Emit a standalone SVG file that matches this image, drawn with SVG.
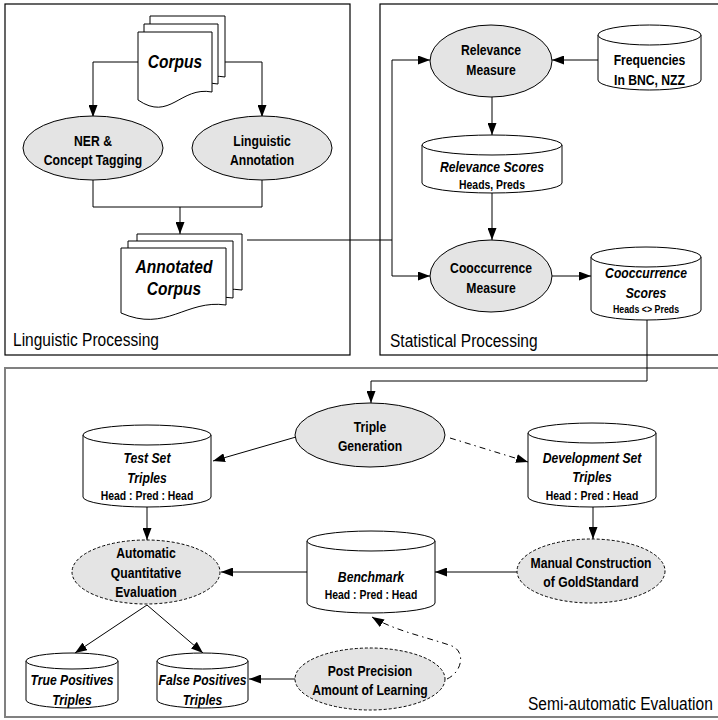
<svg xmlns="http://www.w3.org/2000/svg" width="718" height="720" viewBox="0 0 718 720">
<style>
.bg{fill:#ffffff}
.panel{fill:none;stroke:#000;stroke-width:1.2}
.panel2{fill:none;stroke:#808080;stroke-width:2}
.doc{fill:#fff;stroke:#000;stroke-width:1}
.cyl{fill:#fff;stroke:#000;stroke-width:1}
.ell{fill:#e4e4e4;stroke:#000;stroke-width:1}
.dash{stroke-dasharray:3,2}
.ln{fill:none;stroke:#000;stroke-width:1}
.dd{stroke-dasharray:6,4,1.5,4}
text{font-family:"Liberation Sans",Arial,Helvetica,sans-serif;fill:#000}
.n{font-size:14.5px;font-weight:bold;text-anchor:middle}
.ni{font-size:14.5px;font-weight:bold;font-style:italic;text-anchor:middle}
.s{font-size:12.4px;font-weight:bold;text-anchor:middle}
.xs{font-size:10.5px;font-weight:bold;text-anchor:middle}
.big{font-size:18.5px;font-weight:bold;font-style:italic;text-anchor:middle}
.lab{font-size:18.5px}
</style>
<defs>
<marker id="arr" viewBox="0 0 12 9" refX="12" refY="4.5" markerWidth="12" markerHeight="9" markerUnits="userSpaceOnUse" orient="auto">
<path d="M0,0 L12,4.5 L0,9 Z" fill="#000"/>
</marker>
</defs>
<rect class="bg" x="0" y="0" width="718" height="720"/>

<g id="panels">
<rect class="panel" x="5" y="4" width="345" height="351"/>
<rect class="panel" x="380" y="4" width="345" height="351"/>
<rect class="panel2" x="5" y="368" width="720" height="349"/>
<text class="lab" transform="translate(13 346) scale(.84 1)">Linguistic Processing</text>
<text class="lab" transform="translate(390 347) scale(.84 1)">Statistical Processing</text>
<text class="lab" transform="translate(528 710) scale(.84 1)">Semi-automatic Evaluation</text>
</g>

<g id="connectors">
<polyline class="ln" points="138,62 93,62 93,117" marker-end="url(#arr)"/>
<polyline class="ln" points="225,62 262,62 262,117" marker-end="url(#arr)"/>
<polyline class="ln" points="93,180 93,207 262,207 262,180"/>
<line class="ln" x1="180" y1="207" x2="180" y2="234" marker-end="url(#arr)"/>
<polyline class="ln" points="247,240 392,240"/>
<polyline class="ln" points="392,60 392,276"/>
<line class="ln" x1="392" y1="60" x2="430" y2="60" marker-end="url(#arr)"/>
<line class="ln" x1="392" y1="276" x2="430" y2="276" marker-end="url(#arr)"/>
<line class="ln" x1="598" y1="60" x2="552" y2="60" marker-end="url(#arr)"/>
<line class="ln" x1="492" y1="97" x2="492" y2="135" marker-end="url(#arr)"/>
<line class="ln" x1="492" y1="193" x2="492" y2="240" marker-end="url(#arr)"/>
<line class="ln" x1="552" y1="276" x2="591" y2="276" marker-end="url(#arr)"/>
<polyline class="ln" points="647,319 647,381 371,381 371,403" marker-end="url(#arr)"/>
<line class="ln" x1="296" y1="437" x2="213" y2="461" marker-end="url(#arr)"/>
<line class="ln dd" x1="450" y1="438" x2="528" y2="462" marker-end="url(#arr)"/>
<line class="ln" x1="147" y1="507" x2="147" y2="540" marker-end="url(#arr)"/>
<line class="ln" x1="593" y1="507" x2="593" y2="539" marker-end="url(#arr)"/>
<line class="ln" x1="517" y1="572" x2="435" y2="572" marker-end="url(#arr)"/>
<line class="ln" x1="307" y1="572" x2="221" y2="572" marker-end="url(#arr)"/>
<line class="ln" x1="147" y1="605" x2="75" y2="653" marker-end="url(#arr)"/>
<line class="ln" x1="147" y1="605" x2="203" y2="653" marker-end="url(#arr)"/>
<line class="ln" x1="295" y1="679" x2="249" y2="679" marker-end="url(#arr)"/>
<path class="ln dd" d="M447,679 C462,672 466,652 452,646 C430,638 395,631 372,617" marker-end="url(#arr)"/>
</g>

<g id="corpus">
<path class="doc" d="M150,16 H225 V77 C193,71 183,107 150,85 Z"/>
<path class="doc" d="M144,24 H218 V84 C186,78 176,114 144,92 Z"/>
<path class="doc" d="M138,32 H212 V92 C180,86 170,122 138,100 Z"/>
<text class="big" transform="translate(175 68) scale(.84 1)">Corpus</text>
</g>

<g id="ner">
<ellipse class="ell" cx="93" cy="148" rx="70" ry="32"/>
<g transform="translate(93 0) scale(.84 1)">
<text class="n" x="0" y="146">NER &amp;</text>
<text class="n" x="0" y="165">Concept Tagging</text>
</g>
</g>

<g id="linguistic-annotation">
<ellipse class="ell" cx="262" cy="148" rx="70" ry="32"/>
<g transform="translate(262 0) scale(.84 1)">
<text class="n" x="0" y="146">Linguistic</text>
<text class="n" x="0" y="165">Annotation</text>
</g>
</g>

<g id="annotated-corpus">
<path class="doc" d="M137,234 H242 V290 C202,284 182,318 137,299 Z"/>
<path class="doc" d="M128,241 H233 V298 C193,292 173,326 128,306 Z"/>
<path class="doc" d="M121,248 H226 V305 C186,299 166,333 121,313 Z"/>
<g transform="translate(174 0) scale(.84 1)">
<text class="big" x="0" y="273">Annotated</text>
<text class="big" x="0" y="295">Corpus</text>
</g>
</g>

<g id="relevance-measure">
<ellipse class="ell" cx="491" cy="61" rx="61" ry="36"/>
<g transform="translate(491 0) scale(.84 1)">
<text class="n" x="0" y="55">Relevance</text>
<text class="n" x="0" y="75">Measure</text>
</g>
</g>

<g id="frequencies">
<path class="cyl" d="M598,35 V80 A51.5,10 0 0 0 701,80 V35"/>
<ellipse class="cyl" cx="649.5" cy="35" rx="51.5" ry="10"/>
<g transform="translate(649.5 0) scale(.84 1)">
<text class="n" x="0" y="65">Frequencies</text>
<text class="n" x="0" y="85">In BNC, NZZ</text>
</g>
</g>

<g id="relevance-scores">
<path class="cyl" d="M422,145 V183 A70,10 0 0 0 562,183 V145"/>
<ellipse class="cyl" cx="492" cy="145" rx="70" ry="10"/>
<g transform="translate(492 0) scale(.84 1)">
<text class="ni" x="0" y="172">Relevance Scores</text>
<text class="s" x="0" y="189">Heads, Preds</text>
</g>
</g>

<g id="cooccurrence-measure">
<ellipse class="ell" cx="491" cy="276" rx="61" ry="36"/>
<g transform="translate(491 0) scale(.84 1)">
<text class="n" x="0" y="273">Cooccurrence</text>
<text class="n" x="0" y="293">Measure</text>
</g>
</g>

<g id="cooccurrence-scores">
<path class="cyl" d="M591,257 V310 A55,10 0 0 0 701,310 V257"/>
<ellipse class="cyl" cx="646" cy="257" rx="55" ry="10"/>
<g transform="translate(646 0) scale(.84 1)">
<text class="ni" x="0" y="278">Cooccurrence</text>
<text class="ni" x="0" y="298">Scores</text>
<text class="xs" x="0" y="313">Heads &lt;&gt; Preds</text>
</g>
</g>

<g id="triple-generation">
<ellipse class="ell" cx="370" cy="435" rx="75" ry="32"/>
<g transform="translate(370 0) scale(.84 1)">
<text class="n" x="0" y="432">Triple</text>
<text class="n" x="0" y="451">Generation</text>
</g>
</g>

<g id="test-set">
<path class="cyl" d="M83,435 V497 A64,10 0 0 0 211,497 V435"/>
<ellipse class="cyl" cx="147" cy="435" rx="64" ry="10"/>
<g transform="translate(147 0) scale(.84 1)">
<text class="ni" x="0" y="463">Test Set</text>
<text class="ni" x="0" y="483">Triples</text>
<text class="s" x="0" y="500">Head : Pred : Head</text>
</g>
</g>

<g id="development-set">
<path class="cyl" d="M528,433 V497 A64,10 0 0 0 656,497 V433"/>
<ellipse class="cyl" cx="592" cy="433" rx="64" ry="10"/>
<g transform="translate(592 0) scale(.84 1)">
<text class="ni" x="0" y="463">Development Set</text>
<text class="ni" x="0" y="482">Triples</text>
<text class="s" x="0" y="500">Head : Pred : Head</text>
</g>
</g>

<g id="automatic-evaluation">
<ellipse class="ell dash" cx="146" cy="572" rx="74" ry="32"/>
<g transform="translate(146 0) scale(.84 1)">
<text class="n" x="0" y="558">Automatic</text>
<text class="n" x="0" y="578">Quantitative</text>
<text class="n" x="0" y="597">Evaluation</text>
</g>
</g>

<g id="benchmark">
<path class="cyl" d="M307,541 V603 A64,10 0 0 0 435,603 V541"/>
<ellipse class="cyl" cx="371" cy="541" rx="64" ry="10"/>
<g transform="translate(371 0) scale(.84 1)">
<text class="ni" x="0" y="582">Benchmark</text>
<text class="s" x="0" y="599">Head : Pred : Head</text>
</g>
</g>

<g id="manual-construction">
<ellipse class="ell dash" cx="591" cy="571" rx="74" ry="32"/>
<g transform="translate(591 0) scale(.84 1)">
<text class="n" x="0" y="568">Manual Construction</text>
<text class="n" x="0" y="587">of GoldStandard</text>
</g>
</g>

<g id="true-positives">
<path class="cyl" d="M26,661 V700 A46,8 0 0 0 118,700 V661"/>
<ellipse class="cyl" cx="72" cy="661" rx="46" ry="8"/>
<g transform="translate(72 0) scale(.84 1)">
<text class="ni" x="0" y="685">True Positives</text>
<text class="ni" x="0" y="705">Triples</text>
</g>
</g>

<g id="false-positives">
<path class="cyl" d="M157,661 V700 A45.5,8 0 0 0 248,700 V661"/>
<ellipse class="cyl" cx="202.5" cy="661" rx="45.5" ry="8"/>
<g transform="translate(202.5 0) scale(.84 1)">
<text class="ni" x="0" y="685">False Positives</text>
<text class="ni" x="0" y="705">Triples</text>
</g>
</g>

<g id="post-precision">
<ellipse class="ell dash" cx="370" cy="679" rx="75" ry="31"/>
<g transform="translate(370 0) scale(.84 1)">
<text class="n" x="0" y="676">Post Precision</text>
<text class="n" x="0" y="695">Amount of Learning</text>
</g>
</g>
</svg>
